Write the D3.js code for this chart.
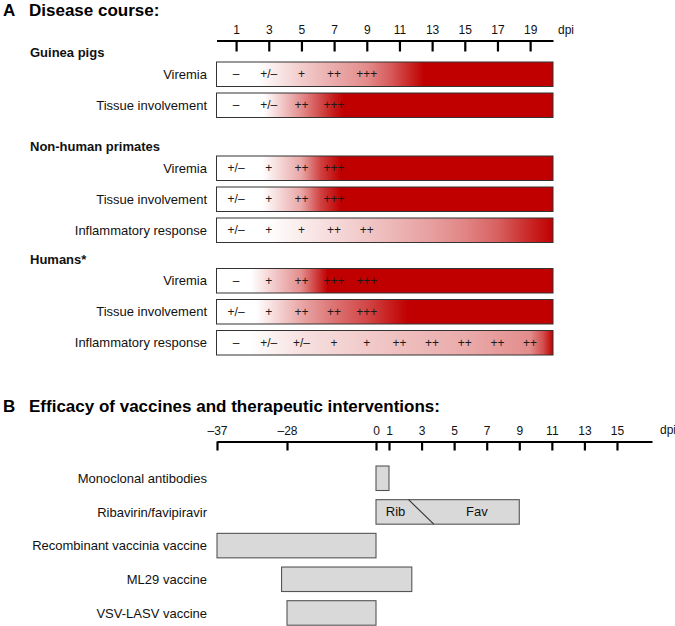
<!DOCTYPE html>
<html><head><meta charset="utf-8">
<script src="https://cdn.jsdelivr.net/npm/d3@7"></script>
<style>body{margin:0;background:#fff}svg{display:block}text{font-family:"Liberation Sans",Arial,Helvetica,sans-serif}</style>
</head><body><svg id="c" width="675" height="626"></svg>
<script>
// ---------- Data: Part A ----------
const ticksA = [1,3,5,7,9,11,13,15,17,19];
const domainA = [-0.2, 20.4];
const groupsA = ["Guinea pigs","Non-human primates","Humans*"];
const rowGroupA = [0,0,1,1,1,2,2,2];
const rowLabelsA = ["Viremia","Tissue involvement","Viremia","Tissue involvement","Inflammatory response","Viremia","Tissue involvement","Inflammatory response"];
// symbols placed at ticksA[i]
const rowMarksA = [
  ["–","+/–","+","++","+++"],
  ["–","+/–","++","+++"],
  ["+/–","+","++","+++"],
  ["+/–","+","++","+++"],
  ["+/–","+","+","++","++"],
  ["–","+","++","+++","+++"],
  ["+/–","+","++","++","+++"],
  ["–","+/–","+/–","+","+","++","++","++","++","++"]
];
// gradient stops: [day, intensity 0..1]
const rowGradA = [
  [[2.3,0],[5,0.2],[7,0.33],[9,0.45],[10.5,0.65],[12.5,1]],
  [[2.7,0],[5,0.45],[7,0.9],[7.6,1]],
  [[2.6,0],[5,0.35],[6.2,0.75],[7.4,1]],
  [[2.6,0],[5,0.35],[6.2,0.75],[7.4,1]],
  [[2.9,0],[7,0.15],[9,0.22],[13,0.38],[15,0.48],[17,0.62],[19,0.85],[20.4,1]],
  [[1.9,0],[5,0.45],[6.6,1]],
  [[2.2,0],[5,0.35],[7,0.55],[9,0.72],[11.5,1]],
  [[1.8,0],[5,0.12],[11,0.25],[15,0.33],[19,0.45],[19.8,0.7],[20.4,1]]
];

// ---------- Data: Part B ----------
const ticksB = [-37,-28,0,1,3,5,7,9,11,13,15];
const domainB = [-37,-28,0,1,17.15];
const rowsB = ["Monoclonal antibodies","Ribavirin/favipiravir","Recombinant vaccinia vaccine","ML29 vaccine","VSV-LASV vaccine"];
const startB = [0,0,-37,-28.7,-28];
const endB = [1,9,0,2.4,0];
const ribFavSwitch = [2.2, 3.75];
const ribFavLabels = ["Rib","Fav"];
const ribFavLabelDays = [1.4, 6.4];

// ---------- Layout ----------
const svg = d3.select("#c");
const RED = "#c00000";
const redScale = d3.interpolateRgb("#ffffff", RED);
const fmt = v => (v < 0 ? "–" + Math.abs(v) : String(v));

const xA = d3.scaleLinear().domain(domainA).range([216.5, 553]);
const xB = d3.scaleLinear().domain(domainB).range([217, 376, 376, 389, 652]);
xB.domain(domainB).range([217, 287, 376, 389, 652]);

const groupTopA = [62, 156, 268.5];
const rowStepA = 31, barH = 24.5;
const rowIdxInGroup = rowGroupA.map((g, i) => rowGroupA.slice(0, i).filter(v => v === g).length);
const yA = i => d3.scaleLinear().domain([0, 1]).range([groupTopA[rowGroupA[i]], groupTopA[rowGroupA[i]] + rowStepA])(rowIdxInGroup[i]);

// Titles
svg.append("text").attr("x", 3).attr("y", 16).attr("font-size", 17).attr("font-weight", "bold").text("A");
svg.append("text").attr("x", 29).attr("y", 16).attr("font-size", 17).attr("font-weight", "bold").text("Disease course:");
svg.append("text").attr("x", 3).attr("y", 411.5).attr("font-size", 17).attr("font-weight", "bold").text("B");
svg.append("text").attr("x", 29).attr("y", 411.5).attr("font-size", 17).attr("font-weight", "bold").text("Efficacy of vaccines and therapeutic interventions:");

// Axis A
function styleAxis(g) {
  g.select(".domain").attr("stroke", "#000").attr("stroke-width", 2.2);
  g.selectAll(".tick line").attr("stroke", "#000").attr("stroke-width", 2.2);
  g.selectAll(".tick text").attr("y", -7).attr("dy", 0).attr("font-size", 12)
    .attr("font-family", '"Liberation Sans",Arial,sans-serif').attr("fill", "#111");
}
const axA = svg.append("g").attr("transform", "translate(0,40.5)")
  .call(d3.axisBottom(xA).tickValues(ticksA).tickSize(11).tickSizeOuter(0).tickFormat(fmt));
styleAxis(axA);
svg.append("text").attr("x", 558).attr("y", 34).attr("font-size", 12).attr("fill", "#111").text("dpi");

// Gradients
const defs = svg.append("defs");
rowGradA.forEach((stops, i) => {
  const lg = defs.append("linearGradient").attr("id", "gA" + i)
    .attr("gradientUnits", "userSpaceOnUse")
    .attr("x1", xA.range()[0]).attr("x2", xA.range()[1]).attr("y1", 0).attr("y2", 0);
  stops.forEach(([d, v]) => {
    lg.append("stop").attr("offset", (xA(d) - xA.range()[0]) / (xA.range()[1] - xA.range()[0]))
      .attr("stop-color", redScale(v));
  });
});

// Group labels
groupsA.forEach((g, gi) => {
  svg.append("text").attr("x", 30).attr("y", groupTopA[gi] - 5)
    .attr("font-size", 13).attr("font-weight", "bold").attr("fill", "#111").text(g);
});

// Rows A
rowLabelsA.forEach((lab, i) => {
  const y = yA(i);
  svg.append("text").attr("x", 207).attr("y", y + barH / 2 + 4.7).attr("text-anchor", "end")
    .attr("font-size", 13).attr("fill", "#111").text(lab);
  svg.append("rect").attr("x", xA.range()[0]).attr("y", y)
    .attr("width", xA.range()[1] - xA.range()[0]).attr("height", barH)
    .attr("fill", `url(#gA${i})`).attr("stroke", "#333").attr("stroke-width", 1);
  rowMarksA[i].forEach((m, j) => {
    svg.append("text").attr("x", xA(ticksA[j])).attr("y", y + barH / 2 + 4.2)
      .attr("text-anchor", "middle").attr("font-size", 12).attr("fill", "#1a1a1a").text(m);
  });
});

// Axis B
const axB = svg.append("g").attr("transform", "translate(0,441.5)")
  .call(d3.axisBottom(xB).tickValues(ticksB).tickSize(9).tickSizeOuter(0).tickFormat(fmt));
styleAxis(axB);
svg.append("text").attr("x", 660).attr("y", 434).attr("font-size", 12).attr("fill", "#111").text("dpi");

// Rows B
const yB = d3.scalePoint().domain(rowsB).range([466, 600.7]);
const barHB = 24.5;
rowsB.forEach((lab, i) => {
  const y = yB(lab);
  svg.append("text").attr("x", 207).attr("y", y + barHB / 2 + 4.7).attr("text-anchor", "end")
    .attr("font-size", 13).attr("fill", "#111").text(lab);
  svg.append("rect").attr("x", xB(startB[i])).attr("y", y)
    .attr("width", xB(endB[i]) - xB(startB[i])).attr("height", barHB)
    .attr("fill", "#d9d9d9").attr("stroke", "#555").attr("stroke-width", 1.1);
  if (i === 1) {
    svg.append("line").attr("x1", xB(ribFavSwitch[0])).attr("y1", y)
      .attr("x2", xB(ribFavSwitch[1])).attr("y2", y + barHB)
      .attr("stroke", "#333").attr("stroke-width", 1.1);
    ribFavLabels.forEach((t, k) => {
      svg.append("text").attr("x", xB(ribFavLabelDays[k])).attr("y", y + barHB / 2 + 4.5)
        .attr("text-anchor", "middle").attr("font-size", 13).attr("fill", "#111").text(t);
    });
  }
});
</script></body></html>
